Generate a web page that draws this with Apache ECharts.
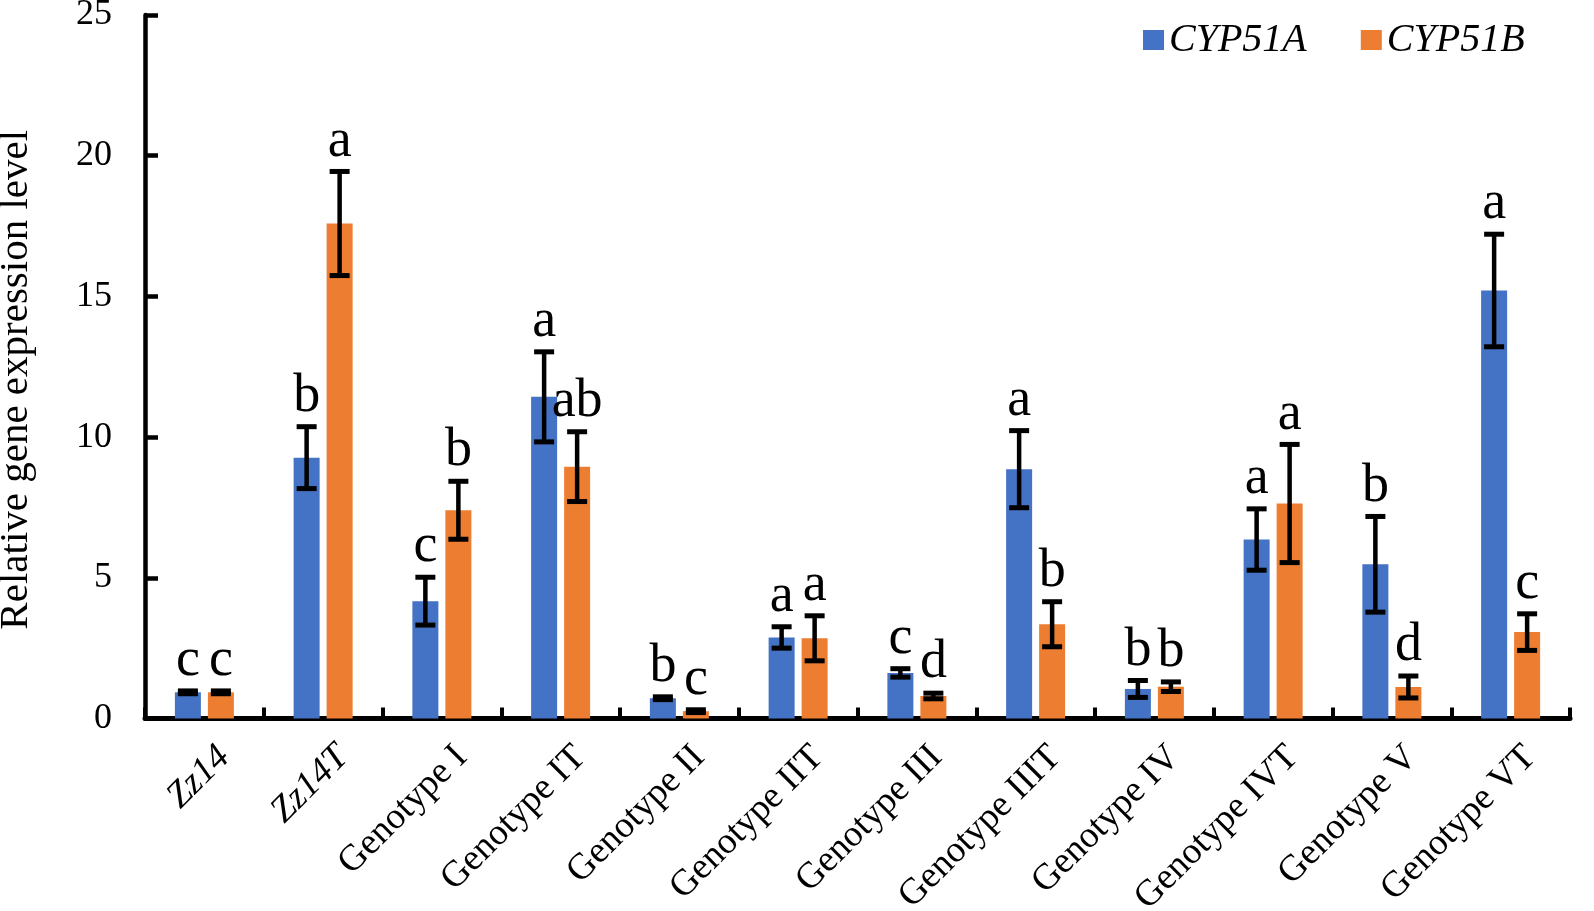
<!DOCTYPE html>
<html>
<head>
<meta charset="utf-8">
<script src="https://cdn.jsdelivr.net/npm/echarts@6/dist/echarts.min.js"></script>
<style>
html,body{margin:0;padding:0;background:#fff;}
#chart{width:1594px;height:911px;}
</style>
</head>
<body>
<div id="chart"></div>
<script>
// ---- data ----
const categories = ['Zz14','Zz14T','Genotype I','Genotype IT','Genotype II','Genotype IIT','Genotype III','Genotype IIIT','Genotype IV','Genotype IVT','Genotype V','Genotype VT'];
const italicCategories = ['Zz14','Zz14T'];
const seriesNames = ['CYP51A','CYP51B'];
const cyp51A    = [0.93, 9.27, 4.17, 11.43, 0.72, 2.88, 1.62, 8.86, 1.05, 6.36, 5.48, 15.21];
const cyp51AErr = [0.05, 1.10, 0.85, 1.60, 0.05, 0.38, 0.15, 1.37, 0.30, 1.09, 1.70, 2.00];
const cyp51B    = [0.93, 17.59, 7.40, 8.95, 0.26, 2.85, 0.80, 3.35, 1.13, 7.64, 1.12, 3.07];
const cyp51BErr = [0.05, 1.85, 1.03, 1.24, 0.05, 0.80, 0.10, 0.80, 0.17, 2.10, 0.39, 0.65];
const lettersA  = ['c','b','c','a','b','a','c','a','b','a','b','a'];
const lettersB  = ['c','a','b','ab','c','a','d','b','b','a','d','c'];
const yTicks = {min: 0, max: 25, interval: 5};

// ---- style ----
const FONT = '"Liberation Serif","Times New Roman",serif';
const BLUE = '#4472C4', ORANGE = '#ED7D31';
const BAR_W = 26, BAR_GAP_PX = 7;
const OFFSET = (BAR_W + BAR_GAP_PX) / 2;

function errSeries(name, vals, errs, letters, sign) {
  return {
    name: name,
    type: 'custom',
    z: 10,
    data: vals.map((v, i) => [i, v, errs[i]]),
    encode: {x: 0, y: 1},
    renderItem: function (params, api) {
      const i = api.value(0), v = api.value(1), e = api.value(2);
      const c = api.coord([i, v]);
      const x = c[0] + sign * OFFSET;
      const top = api.coord([i, v + e])[1];
      const bot = api.coord([i, Math.max(0, v - e)])[1];
      const capHalf = 10;
      const ls = {stroke: '#000', lineWidth: 5};
      return {
        type: 'group',
        children: [
          {type: 'line', shape: {x1: x, y1: top, x2: x, y2: bot}, style: {stroke: '#000', lineWidth: 4.5}},
          {type: 'line', shape: {x1: x - capHalf, y1: top, x2: x + capHalf, y2: top}, style: ls},
          {type: 'line', shape: {x1: x - capHalf, y1: bot, x2: x + capHalf, y2: bot}, style: ls},
          {type: 'text', style: {text: letters[params.dataIndex], x: x, y: top - 3,
            align: 'center', verticalAlign: 'bottom', fill: '#000',
            font: '54px ' + FONT}}
        ]
      };
    }
  };
}

const chart = echarts.init(document.getElementById('chart'), null, {renderer: 'canvas'});
chart.setOption({
  backgroundColor: '#fff',
  animation: false,
  grid: {left: 145, right: 24, top: 15, bottom: 192.5, containLabel: false, outerBoundsMode: 'none'},
  legend: {
    data: seriesNames,
    left: 1143, top: 20, padding: 0,
    itemWidth: 21, itemHeight: 20, itemGap: 54,
    icon: 'rect',
    textStyle: {fontFamily: FONT, fontStyle: 'italic', fontSize: 40, color: '#000'}
  },
  xAxis: {
    type: 'category',
    data: categories,
    boundaryGap: true,
    axisLine: {lineStyle: {color: '#000', width: 5}},
    axisTick: {show: true, inside: true, length: 11, lineStyle: {color: '#000', width: 4}},
    axisLabel: {
      interval: 0, rotate: 45, margin: 53, color: '#000',
      fontFamily: FONT, fontSize: 37,
      padding: [0, -28, 0, 0],
      formatter: function (v) {
        return italicCategories.indexOf(v) >= 0 ? '{i|' + v + '}' : '{n|' + v + '}';
      },
      rich: {
        i: {fontFamily: FONT, fontSize: 37, fontStyle: 'italic', color: '#000'},
        n: {fontFamily: FONT, fontSize: 37, color: '#000'}
      }
    },
    splitLine: {show: false}
  },
  yAxis: {
    type: 'value',
    min: yTicks.min, max: yTicks.max, interval: yTicks.interval,
    name: 'Relative gene expression level',
    nameLocation: 'middle', nameRotate: 90, nameGap: 108,
    nameTextStyle: {fontFamily: FONT, fontSize: 41, color: '#000', padding: [0, 26, 0, 0]},
    axisLine: {show: true, lineStyle: {color: '#000', width: 4.5}},
    axisTick: {show: true, inside: true, length: 13, lineStyle: {color: '#000', width: 4.5}},
    axisLabel: {fontFamily: FONT, fontSize: 36, color: '#000', margin: 33},
    splitLine: {show: false}
  },
  series: [
    {name: seriesNames[0], type: 'bar', data: cyp51A, barWidth: BAR_W, barGap: (BAR_GAP_PX / BAR_W * 100) + '%',
     itemStyle: {color: BLUE}},
    {name: seriesNames[1], type: 'bar', data: cyp51B, barWidth: BAR_W,
     itemStyle: {color: ORANGE}},
    errSeries('errA', cyp51A, cyp51AErr, lettersA, -1),
    errSeries('errB', cyp51B, cyp51BErr, lettersB, 1)
  ]
});
</script>
</body>
</html>
